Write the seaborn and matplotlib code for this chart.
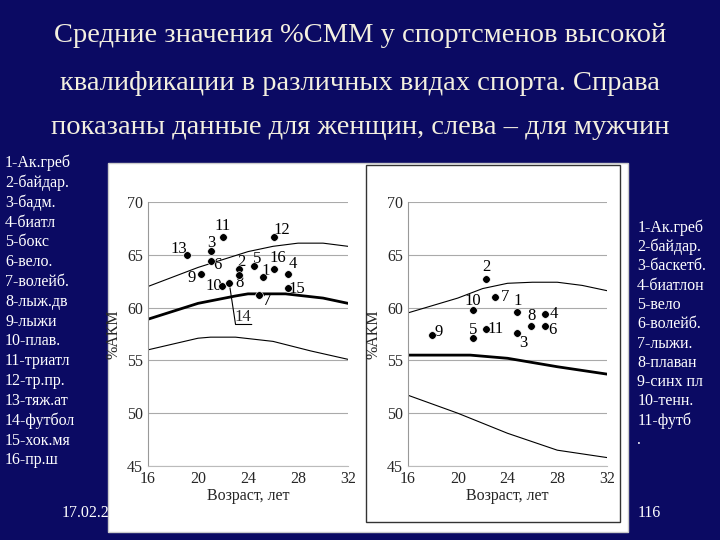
import matplotlib
matplotlib.use('Agg')
import matplotlib.pyplot as plt
import seaborn as sns
import pandas as pd
from matplotlib.patches import Rectangle

sns.set_style('white')
plt.rcParams['font.family'] = ['Liberation Serif', 'DejaVu Serif']

# Men (left panel) points
men_id = ['1', '2', '3', '4', '5', '6', '7', '8', '9', '10', '11', '12', '13', '14', '15', '16']
men_age = [25.2, 23.3, 21.05, 27.2, 24.5, 21.05, 24.9, 23.3, 20.2, 21.9, 22.0, 26.1, 19.1, 22.5, 27.2, 26.1]
men_akm = [62.9, 63.7, 65.4, 63.2, 63.9, 64.4, 61.2, 63.1, 63.2, 62.0, 66.7, 66.7, 64.97, 62.3, 61.9, 63.7]

# Women (right panel) points
wom_id = ['1', '2', '3', '4', '5', '6', '7', '8', '9', '10', '11']
wom_age = [24.8, 22.3, 24.8, 27.0, 21.2, 27.0, 23.0, 25.9, 17.9, 21.2, 22.3]
wom_akm = [59.6, 62.7, 57.6, 59.4, 57.1, 58.3, 61.0, 58.3, 57.4, 59.8, 58.0]

# Norm curves
men_up_x = [16, 20, 24, 26, 28, 30, 32]
men_up_y = [62.0, 63.8, 65.3, 65.8, 66.1, 66.1, 65.8]
men_mid_x = [16, 20, 23, 24, 27, 30, 32]
men_mid_y = [58.9, 60.4, 61.1, 61.3, 61.3, 60.9, 60.4]
men_low_x = [16, 20, 21, 23, 26, 29, 32]
men_low_y = [56.0, 57.1, 57.2, 57.2, 56.8, 55.9, 55.1]

wom_up_x = [16, 20, 22, 24, 26, 28, 30, 32]
wom_up_y = [59.5, 60.9, 61.8, 62.3, 62.4, 62.4, 62.1, 61.6]
wom_mid_x = [16, 21, 24, 28, 32]
wom_mid_y = [55.5, 55.5, 55.2, 54.4, 53.7]
wom_low_x = [16, 20, 24, 28, 32]
wom_low_y = [51.7, 50.0, 48.1, 46.5, 45.8]

men_sports = ['1-Ак.греб', '2-байдар.', '3-бадм.', '4-биатл', '5-бокс', '6-вело.', '7-волейб.',
              '8-лыж.дв', '9-лыжи', '10-плав.', '11-триатл', '12-тр.пр.', '13-тяж.ат',
              '14-футбол', '15-хок.мя', '16-пр.ш']
wom_sports = ['1-Ак.греб', '2-байдар.', '3-баскетб.', '4-биатлон', '5-вело', '6-волейб.',
              '7-лыжи.', '8-плаван', '9-синх пл', '10-тенн.', '11-футб', '.']

navy = '#0b0a63'
fig = plt.figure(figsize=(7.2, 5.4), dpi=100, facecolor=navy)

title = ['Средние значения %СММ у спортсменов высокой',
         'квалификации в различных видах спорта. Справа',
         'показаны данные для женщин, слева – для мужчин']
for t, y in zip(title, [0.935, 0.845, 0.763]):
    fig.text(0.5, y, t, ha='center', va='center', color='#f4f0e0', fontsize=20.5)

fig.text(0.085, 0.042, '17.02.2016', color='white', fontsize=11.5, zorder=0.5)
fig.text(0.885, 0.042, '116', color='white', fontsize=11.5)

fig.add_artist(Rectangle((0.15, 0.015), 0.722, 0.683, transform=fig.transFigure,
                         facecolor='white', edgecolor='#cccccc', zorder=1))
fig.add_artist(Rectangle((0.508, 0.033), 0.353, 0.662, transform=fig.transFigure,
                         facecolor='none', edgecolor='#333333', lw=1, zorder=1.5))

for i, s in enumerate(men_sports):
    fig.text(0.007, 0.698 - i * 0.0367, s, color='white', fontsize=11.5, va='center')
for i, s in enumerate(wom_sports):
    fig.text(0.885, 0.578 - i * 0.0357, s, color='white', fontsize=11.5, va='center')

ax1 = fig.add_axes([0.2056, 0.137, 0.2778, 0.489])
ax2 = fig.add_axes([0.5667, 0.137, 0.2764, 0.489])


def draw(ax, ids, ages, vals, curves, offsets):
    ax.set_zorder(3)
    ax.set_facecolor('white')
    for cx, cy, lw in curves:
        sns.lineplot(x=cx, y=cy, ax=ax, color='black', lw=lw)
    df = pd.DataFrame({'age': ages, 'akm': vals})
    sns.scatterplot(data=df, x='age', y='akm', ax=ax, color='black', s=30, zorder=5)
    for n, a, v in zip(ids, ages, vals):
        dx, dy = offsets.get(n, (0.3, 0.3))
        ax.text(a + dx, v + dy, n, fontsize=12, color='black', ha='center', va='center')
    ax.set_xlim(16, 32)
    ax.set_ylim(45, 70)
    ax.set_xticks([16, 20, 24, 28, 32])
    ax.set_yticks([45, 50, 55, 60, 65, 70])
    ax.yaxis.grid(True, color='#aaaaaa', lw=0.8)
    for sp in ['top', 'right']:
        ax.spines[sp].set_visible(False)
    ax.spines['left'].set_color('#999999')
    ax.spines['bottom'].set_color('#bbbbbb')
    ax.tick_params(labelsize=11.5, length=0)
    ax.set_xlabel('Возраст, лет', fontsize=11.5, labelpad=1)
    ax.set_ylabel('%АКМ', fontsize=11.5)


men_off = {'13': (-0.6, 0.6), '3': (0, 0.7), '11': (0, 1.0), '6': (0.5, -0.4), '9': (-0.7, -0.4),
           '10': (-0.6, 0), '14': (0, 0), '2': (0.2, 0.6), '8': (0, -0.8), '5': (0.2, 0.7),
           '1': (0.2, 0.6), '7': (0.6, -0.6), '16': (0.3, 1.0), '12': (0.6, 0.6),
           '4': (0.4, 0.9), '15': (0.7, -0.1)}
draw(ax1, men_id, men_age, men_akm,
     [(men_up_x, men_up_y, 0.8), (men_mid_x, men_mid_y, 2.0), (men_low_x, men_low_y, 0.8)], men_off)
ax1.texts[13].set_text('')
ax1.plot([22.5, 23.0, 24.3], [62.3, 58.4, 58.4], color='black', lw=0.8)
ax1.text(23.6, 59.1, '14', fontsize=12, ha='center', va='center')

wom_off = {'9': (0.6, 0.3), '5': (0, 0.8), '10': (0, 0.8), '11': (0.7, 0), '2': (0, 1.1),
           '7': (0.8, 0), '1': (0, 1.0), '3': (0.5, -1.0), '8': (0, 0.9), '4': (0.7, 0),
           '6': (0.6, -0.4)}
draw(ax2, wom_id, wom_age, wom_akm,
     [(wom_up_x, wom_up_y, 0.8), (wom_mid_x, wom_mid_y, 2.0), (wom_low_x, wom_low_y, 0.8)], wom_off)

fig.savefig('out.png', dpi=100, facecolor=navy)
